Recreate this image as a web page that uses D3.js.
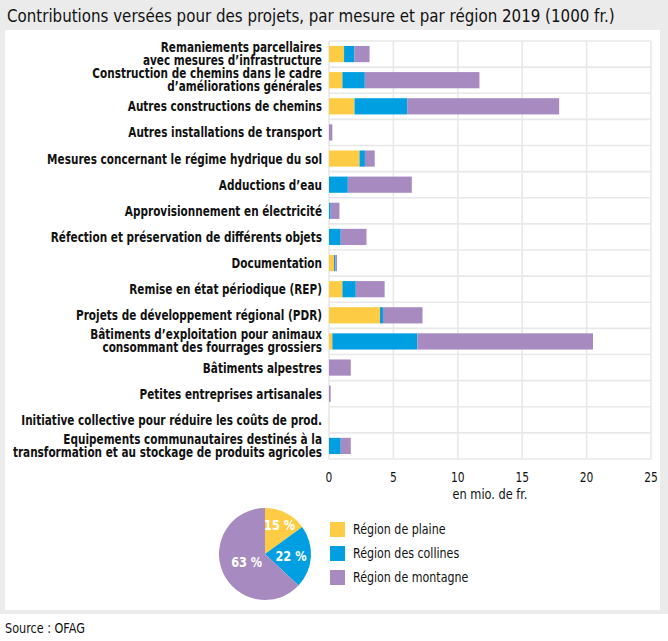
<!DOCTYPE html>
<html><head><meta charset="utf-8">
<script src="https://cdn.jsdelivr.net/npm/d3@7"></script>
<style>
html,body{margin:0;padding:0;background:#fff;}
svg{display:block;font-family:"DejaVu Sans Condensed","DejaVu Sans",sans-serif;}
</style></head>
<body><svg id="c" width="668" height="641"></svg>
<script>
const categories = [
  "Remaniements parcellaires\navec mesures d’infrastructure",
  "Construction de chemins dans le cadre\nd’améliorations générales",
  "Autres constructions de chemins",
  "Autres installations de transport",
  "Mesures concernant le régime hydrique du sol",
  "Adductions d’eau",
  "Approvisionnement en électricité",
  "Réfection et préservation de différents objets",
  "Documentation",
  "Remise en état périodique (REP)",
  "Projets de développement régional (PDR)",
  "Bâtiments d’exploitation pour animaux\nconsommant des fourrages grossiers",
  "Bâtiments alpestres",
  "Petites entreprises artisanales",
  "Initiative collective pour réduire les coûts de prod.",
  "Equipements communautaires destinés à la\ntransformation et au stockage de produits agricoles"
];
const seriesNames = ["Région de plaine","Région des collines","Région de montagne"];
const plaine   = [1.17,1.04,1.98,0,2.37,0,0,0,0.39,1.04,3.96,0.26,0,0,0,0];
const collines = [0.81,1.74,4.09,0,0.42,1.46,0.13,0.91,0.10,1.04,0.23,6.59,0,0,0,0.91];
const montagne = [1.17,8.90,11.80,0.26,0.76,4.97,0.68,2.00,0.13,2.24,3.07,13.65,1.69,0.13,0,0.78];
const xTicks = [0,5,10,15,20,25];
const pieShares = [15,22,63];
const colors = ["#fecc44","#009fe1","#a78bc0"];
const title = "Contributions versées pour des projets, par mesure et par région 2019 (1000 fr.)";
const xAxisTitle = "en mio. de fr.";
const source = "Source : OFAG";

const svg = d3.select("#c");

function fitWidth(sel, target, ax){
  const w = sel.node().getComputedTextLength();
  const f = target / w;
  sel.attr("transform", `translate(${ax},0) scale(${f},1) translate(${-ax},0)`);
  return f;
}
function condense(sel, f, ax){
  sel.attr("transform", `translate(${ax},0) scale(${f},1) translate(${-ax},0)`);
}

svg.append("rect").attr("x",0).attr("y",0).attr("width",668).attr("height",614).attr("fill","#ebebeb");
svg.append("rect").attr("x",5).attr("y",30).attr("width",655).attr("height",580).attr("fill","#fff");
const tt = svg.append("text").attr("x",7).attr("y",22).attr("font-size",17.5).attr("fill","#111").text(title);
fitWidth(tt, 608, 7);
const st = svg.append("text").attr("x",5).attr("y",633).attr("font-size",13.5).attr("fill","#111").text(source);
fitWidth(st, 80, 5);

const x = d3.scaleLinear().domain([0,25]).range([329,651]);
const y = d3.scaleBand().domain(categories).range([41,459]).paddingInner(0.38).paddingOuter(0.19);
const step = y.step();
const top0 = 41, bot0 = 459;

// grid
const g = svg.append("g");
g.selectAll("line.v").data(xTicks).join("line")
  .attr("x1",d=>x(d)).attr("x2",d=>x(d)).attr("y1",top0).attr("y2",bot0)
  .attr("stroke","#e8e8e8").attr("stroke-width",1.6);
g.selectAll("line.h").data(d3.range(categories.length+1)).join("line")
  .attr("x1",x(0)).attr("x2",x(25)).attr("y1",i=>top0+i*step).attr("y2",i=>top0+i*step)
  .attr("stroke","#e8e8e8").attr("stroke-width",1.6);

// stacked bars
const table = categories.map((c,i)=>({cat:c,p:plaine[i],c2:collines[i],m:montagne[i]}));
const stack = d3.stack().keys(["p","c2","m"])(table);
svg.append("g").selectAll("g").data(stack).join("g").attr("fill",(d,i)=>colors[i])
  .selectAll("rect").data(d=>d).join("rect")
  .attr("x",d=>x(d[0])).attr("width",d=>Math.max(0,x(d[1])-x(d[0])))
  .attr("y",d=>y(d.data.cat)).attr("height",y.bandwidth());

// category labels
const lab = svg.append("g").attr("font-size",14).attr("font-weight","bold").attr("fill","#111").attr("text-anchor","end");
const labTexts = [];
categories.forEach(c=>{
  const lines = c.split("\n");
  const cy = y(c)+y.bandwidth()/2;
  if(lines.length===1){
    labTexts.push(lab.append("text").attr("x",322).attr("y",cy+5).text(lines[0]));
  } else {
    labTexts.push(lab.append("text").attr("x",322).attr("y",cy-2.2).text(lines[0]));
    labTexts.push(lab.append("text").attr("x",322).attr("y",cy+10.8).text(lines[1]));
  }
});
const refT = labTexts.find(t=>t.text()==="Initiative collective pour réduire les coûts de prod.");
const lf = 301 / refT.node().getComputedTextLength();
labTexts.forEach(t=>condense(t, lf, 322));

// x axis labels
svg.append("g").attr("font-size",13.5).attr("fill","#111").attr("text-anchor","middle")
  .selectAll("text").data(xTicks).join("text").attr("x",d=>x(d)).attr("y",482).text(d=>d)
  .each(function(d){condense(d3.select(this),0.88,x(d));});
const at = svg.append("text").attr("x",(x(0)+x(25))/2).attr("y",499).attr("font-size",13.5).attr("text-anchor","middle").attr("fill","#111").text(xAxisTitle);
fitWidth(at, 75, (x(0)+x(25))/2);

// pie
const pie = d3.pie().sort(null).value(d=>d)(pieShares);
const arc = d3.arc().innerRadius(0).outerRadius(46);
const pg = svg.append("g").attr("transform","translate(265,554)");
pg.selectAll("path").data(pie).join("path").attr("d",arc).attr("fill",(d,i)=>colors[i]);
const labR = [32,26,20];
pg.selectAll("text").data(pie).join("text")
  .attr("transform",(d,i)=>{
    const a=(d.startAngle+d.endAngle)/2;
    const cx=Math.sin(a)*labR[i], cy=-Math.cos(a)*labR[i];
    return `translate(${cx},${cy+5}) scale(0.9,1)`;})
  .attr("text-anchor","middle").attr("font-size",14).attr("font-weight","bold").attr("fill","#fff")
  .text(d=>d.data+" %");

// legend
const lg = svg.append("g");
seriesNames.forEach((n,i)=>{
  lg.append("rect").attr("x",330).attr("y",522+i*24).attr("width",15).attr("height",15).attr("fill",colors[i]);
  const t = lg.append("text").attr("x",353).attr("y",534+i*24).attr("font-size",14).attr("fill","#111").text(n);
  condense(t, 0.88, 353);
});
</script></body></html>
